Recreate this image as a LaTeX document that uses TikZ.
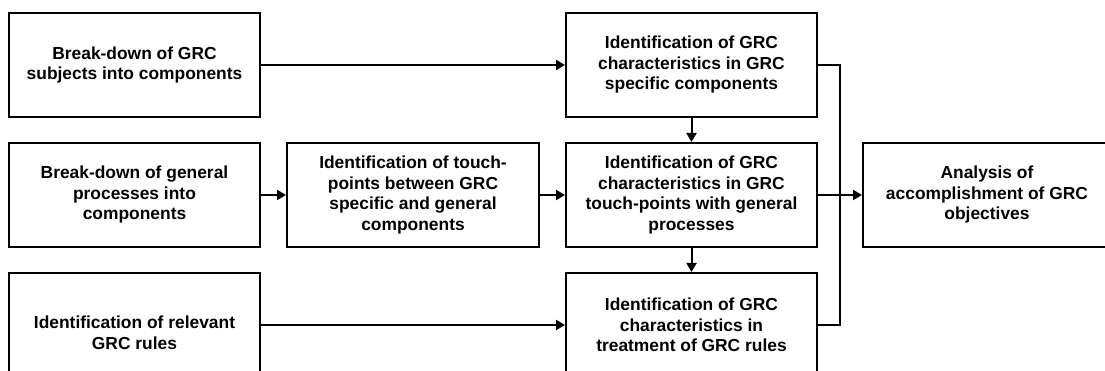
\documentclass[tikz,border=0pt]{standalone}
\usepackage{fontspec}
\setmainfont{Liberation Sans}
\usetikzlibrary{arrows.meta}
\begin{document}
\begin{tikzpicture}[x=1pt,y=-1pt,
  box/.style={draw=black, line width=2pt, align=center, inner sep=0pt,
    font=\fontsize{17.4}{20.5}\selectfont\bfseries,
    minimum width=251pt, minimum height=104pt},
  flow/.style={line width=2pt, -{Triangle[length=9pt,width=10pt]}},
  link/.style={line width=2pt, line join=miter}]
\useasboundingbox (0,0) rectangle (1105,371);
\clip (0,0) rectangle (1105,371);

% first column: inputs
\node[box] (A) at (134.5,65) {Break-down of GRC\\subjects into components};
\node[box] (C) at (134.5,195) {Break-down of general\\processes into\\components};
\node[box, minimum height=120pt] (F) at (134.5,333) {Identification of relevant\\GRC rules};

% second column
\node[box, minimum width=252pt] (D) at (413,195) {Identification of touch-\\points between GRC\\specific and general\\components};

% third column: characteristics
\node[box] (B) at (691.5,65) {Identification of GRC\\characteristics in GRC\\specific components};
\node[box] (E) at (691.5,195) {Identification of GRC\\characteristics in GRC\\touch-points with general\\processes};
\node[box] (G) at (691.5,325) {Identification of GRC\\characteristics in\\treatment of GRC rules};

% result
\node[box, minimum width=248pt] (H) at (987,195) {Analysis of\\accomplishment of GRC\\objectives};

\coordinate (bus) at (840,195);

% connectors
\draw[flow] (A) -- (B);
\draw[flow] (C) -- (D);
\draw[flow] (D) -- (E);
\draw[flow] (F.east |- G.west) -- (G.west);
\draw[flow] (B) -- (E);
\draw[flow] (E) -- (G);
\draw[link] (B.east) -- (B.east -| bus) -- (G.east -| bus) -- (G.east);
\draw[flow] (E) -- (H);
\end{tikzpicture}
\end{document}
